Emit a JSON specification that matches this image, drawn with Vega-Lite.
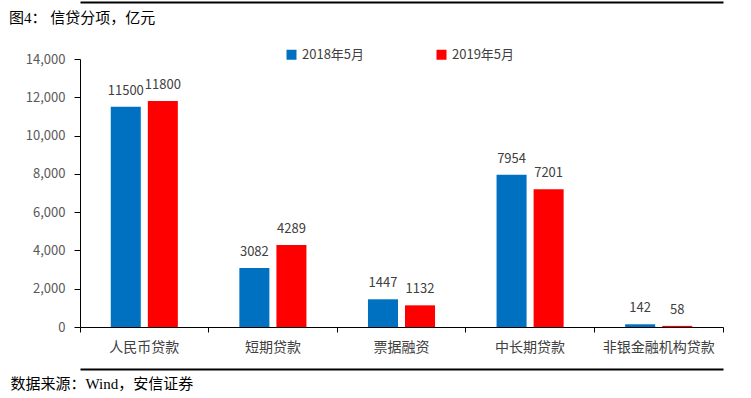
{
  "$schema": "https://vega.github.io/schema/vega-lite/v6.json",
  "width": 643,
  "height": 268,
  "autosize": "none",
  "padding": {"left": 80, "top": 59, "right": 28, "bottom": 71},
  "background": "white",
  "config": {"view": {"stroke": null}, "font": "Noto Sans CJK SC"},
  "title": {
    "text": "图4：  信贷分项，亿元",
    "anchor": "start",
    "frame": "group",
    "dx": -71,
    "offset": -24,
    "fontSize": 15,
    "font": "Liberation Serif, Noto Sans CJK SC",
    "fontWeight": "normal",
    "color": "#000000"
  },
  "data": {
    "values": [
      {"category": "人民币贷款", "period": "2018年5月", "value": 11500},
      {"category": "人民币贷款", "period": "2019年5月", "value": 11800},
      {"category": "短期贷款", "period": "2018年5月", "value": 3082},
      {"category": "短期贷款", "period": "2019年5月", "value": 4289},
      {"category": "票据融资", "period": "2018年5月", "value": 1447},
      {"category": "票据融资", "period": "2019年5月", "value": 1132},
      {"category": "中长期贷款", "period": "2018年5月", "value": 7954},
      {"category": "中长期贷款", "period": "2019年5月", "value": 7201},
      {"category": "非银金融机构贷款", "period": "2018年5月", "value": 142},
      {"category": "非银金融机构贷款", "period": "2019年5月", "value": 58}
    ]
  },
  "encoding": {
    "xOffset": {
      "field": "period",
      "type": "nominal",
      "scale": {"paddingInner": 0.19, "paddingOuter": 0.83}
    },
    "y": {
      "field": "value",
      "type": "quantitative",
      "scale": {"domain": [0, 14000]},
      "axis": {
        "values": [0, 2000, 4000, 6000, 8000, 10000, 12000, 14000],
        "format": ",.0f",
        "grid": false,
        "title": null,
        "labelFontSize": 13,
        "labelColor": "#595959",
        "labelPadding": 9,
        "tickSize": 6,
        "tickColor": "#000000",
        "domainColor": "#000000"
      }
    }
  },
  "resolve": {"axis": {"x": "independent"}},
  "layer": [
    {
      "mark": {"type": "bar"},
      "encoding": {
        "x": {
          "field": "category",
          "type": "nominal",
          "sort": ["人民币贷款", "短期贷款", "票据融资", "中长期贷款", "非银金融机构贷款"],
          "scale": {"paddingInner": 0, "paddingOuter": 0},
          "axis": {
            "orient": "bottom",
            "bandPosition": 1,
            "tickExtra": true,
            "labelAngle": 0,
            "labelFontSize": 14,
            "labelColor": "#404040",
            "labelPadding": 8,
            "ticks": true,
            "tickSize": 5,
            "tickColor": "#000000",
            "domainColor": "#000000",
            "title": "数据来源：Wind，安信证券",
            "titleAnchor": "start",
            "titleX": -70,
            "titleY": 56,
            "titleBaseline": "middle",
            "titleFont": "Liberation Serif, Noto Sans CJK SC",
            "titleFontSize": 15,
            "titleFontWeight": "normal",
            "titleColor": "#000000"
          }
        },
        "color": {
          "field": "period",
          "type": "nominal",
          "scale": {"domain": ["2018年5月", "2019年5月"], "range": ["#0070C0", "#FF0000"]},
          "legend": {
            "orient": "none",
            "legendX": 205,
            "legendY": -11,
            "direction": "horizontal",
            "title": null,
            "symbolType": "square",
            "symbolSize": 100,
            "symbolStrokeWidth": 0,
            "labelFontSize": 13,
            "labelColor": "#404040",
            "columnPadding": 70
          }
        }
      }
    },
    {
      "mark": {"type": "text", "dy": -9, "fontSize": 13, "color": "#404040", "baseline": "bottom"},
      "encoding": {
        "x": {
          "field": "category",
          "type": "nominal",
          "sort": ["人民币贷款", "短期贷款", "票据融资", "中长期贷款", "非银金融机构贷款"],
          "axis": {
            "orient": "top",
            "offset": 57,
            "labels": false,
            "ticks": false,
            "domainColor": "#000000",
            "domainWidth": 2,
            "title": null
          }
        },
        "text": {"field": "value", "type": "quantitative", "format": "d"}
      }
    },
    {
      "mark": {"type": "text", "opacity": 0},
      "encoding": {
        "x": {
          "field": "category",
          "type": "nominal",
          "sort": ["人民币贷款", "短期贷款", "票据融资", "中长期贷款", "非银金融机构贷款"],
          "axis": {
            "orient": "bottom",
            "offset": 42,
            "labels": false,
            "ticks": false,
            "domainColor": "#000000",
            "domainWidth": 2,
            "title": null
          }
        },
        "text": {"field": "value", "type": "quantitative", "format": "d"}
      }
    }
  ]
}
